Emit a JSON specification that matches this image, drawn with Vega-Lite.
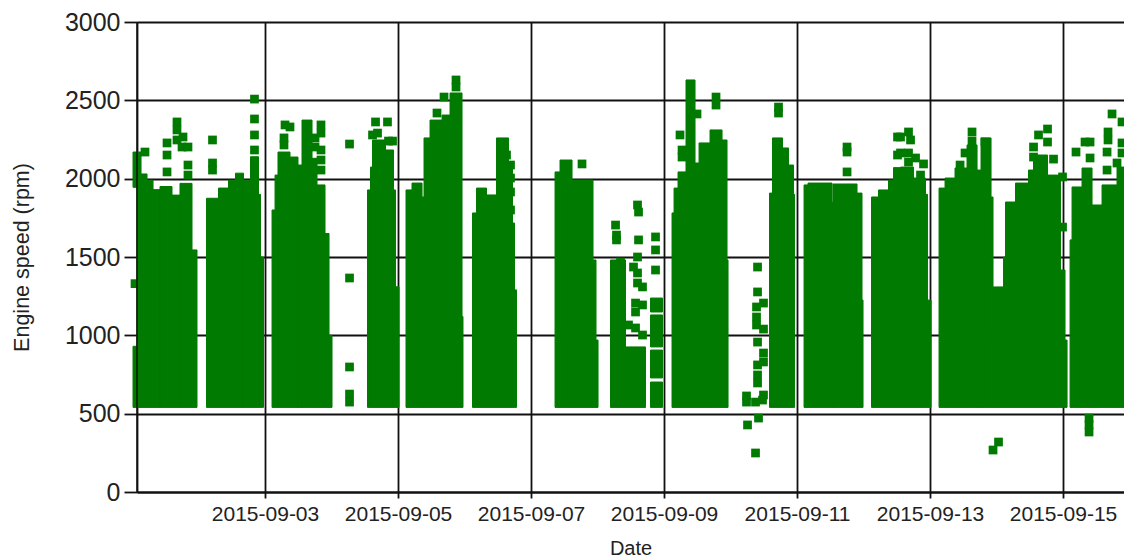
{"$schema":"https://vega.github.io/schema/vega-lite/v6.json","width":987,"height":470,"autosize":"none","padding":{"left":137,"top":22,"right":0,"bottom":68},"background":"white",
"datasets":{"bands":[
{"start":"2015-09-01T00:22","end":"2015-09-01T01:48","low":540,"high":930},
{"start":"2015-09-01T00:22","end":"2015-09-01T01:48","low":1945,"high":2170},
{"start":"2015-09-01T01:48","end":"2015-09-01T03:15","low":540,"high":2170},
{"start":"2015-09-01T03:15","end":"2015-09-01T05:25","low":540,"high":2030},
{"start":"2015-09-01T05:25","end":"2015-09-01T07:35","low":540,"high":1990},
{"start":"2015-09-01T07:35","end":"2015-09-01T10:06","low":540,"high":1930},
{"start":"2015-09-01T10:06","end":"2015-09-01T14:26","low":540,"high":1950},
{"start":"2015-09-01T14:26","end":"2015-09-01T17:19","low":540,"high":1895},
{"start":"2015-09-01T17:19","end":"2015-09-01T21:39","low":540,"high":1970},
{"start":"2015-09-01T21:39","end":"2015-09-01T23:27","low":540,"high":1545},
{"start":"2015-09-02T02:53","end":"2015-09-02T07:13","low":540,"high":1875},
{"start":"2015-09-02T07:13","end":"2015-09-02T10:50","low":540,"high":1940},
{"start":"2015-09-02T10:50","end":"2015-09-02T13:21","low":540,"high":1990},
{"start":"2015-09-02T13:21","end":"2015-09-02T16:14","low":540,"high":2035},
{"start":"2015-09-02T16:14","end":"2015-09-02T18:46","low":540,"high":1990},
{"start":"2015-09-02T18:46","end":"2015-09-02T21:39","low":540,"high":2140},
{"start":"2015-09-02T21:39","end":"2015-09-02T22:22","low":540,"high":1900},
{"start":"2015-09-02T22:22","end":"2015-09-02T23:27","low":540,"high":1500},
{"start":"2015-09-03T02:32","end":"2015-09-03T03:37","low":540,"high":1800},
{"start":"2015-09-03T03:37","end":"2015-09-03T04:41","low":540,"high":2023},
{"start":"2015-09-03T04:41","end":"2015-09-03T09:01","low":540,"high":2170},
{"start":"2015-09-03T09:01","end":"2015-09-03T11:54","low":540,"high":2138},
{"start":"2015-09-03T11:54","end":"2015-09-03T13:21","low":540,"high":2087},
{"start":"2015-09-03T13:21","end":"2015-09-03T16:58","low":540,"high":2374},
{"start":"2015-09-03T16:58","end":"2015-09-03T18:46","low":540,"high":2130},
{"start":"2015-09-03T18:46","end":"2015-09-03T21:39","low":540,"high":1960},
{"start":"2015-09-03T21:39","end":"2015-09-03T23:06","low":540,"high":1650},
{"start":"2015-09-03T23:06","end":"2015-09-04T00:11","low":540,"high":1000},
{"start":"2015-09-04T12:59","end":"2015-09-04T14:04","low":540,"high":1928},
{"start":"2015-09-04T14:04","end":"2015-09-04T14:48","low":540,"high":2074},
{"start":"2015-09-04T14:48","end":"2015-09-04T19:29","low":540,"high":2247},
{"start":"2015-09-04T19:29","end":"2015-09-04T22:22","low":540,"high":2183},
{"start":"2015-09-04T22:22","end":"2015-09-04T23:06","low":540,"high":1928},
{"start":"2015-09-04T23:06","end":"2015-09-05T00:22","low":540,"high":1310},
{"start":"2015-09-05T02:53","end":"2015-09-05T05:03","low":540,"high":1928},
{"start":"2015-09-05T05:03","end":"2015-09-05T08:40","low":540,"high":1972},
{"start":"2015-09-05T08:40","end":"2015-09-05T09:23","low":540,"high":1883},
{"start":"2015-09-05T09:23","end":"2015-09-05T11:33","low":540,"high":2260},
{"start":"2015-09-05T11:33","end":"2015-09-05T15:53","low":540,"high":2374},
{"start":"2015-09-05T15:53","end":"2015-09-05T18:46","low":540,"high":2406},
{"start":"2015-09-05T18:46","end":"2015-09-05T23:06","low":540,"high":2547},
{"start":"2015-09-05T23:06","end":"2015-09-05T23:27","low":540,"high":1120},
{"start":"2015-09-06T02:53","end":"2015-09-06T04:20","low":540,"high":1781},
{"start":"2015-09-06T04:20","end":"2015-09-06T07:56","low":540,"high":1940},
{"start":"2015-09-06T07:56","end":"2015-09-06T11:33","low":540,"high":1896},
{"start":"2015-09-06T11:33","end":"2015-09-06T15:53","low":540,"high":2260},
{"start":"2015-09-06T15:53","end":"2015-09-06T17:19","low":540,"high":2100},
{"start":"2015-09-06T17:19","end":"2015-09-06T18:03","low":540,"high":1717},
{"start":"2015-09-06T18:03","end":"2015-09-06T18:46","low":540,"high":1290},
{"start":"2015-09-07T08:40","end":"2015-09-07T10:28","low":540,"high":2043},
{"start":"2015-09-07T10:28","end":"2015-09-07T14:48","low":540,"high":2119},
{"start":"2015-09-07T14:48","end":"2015-09-07T22:22","low":540,"high":1991},
{"start":"2015-09-07T22:22","end":"2015-09-07T23:27","low":540,"high":1481},
{"start":"2015-09-07T23:27","end":"2015-09-08T00:11","low":540,"high":970},
{"start":"2015-09-08T04:41","end":"2015-09-08T10:06","low":540,"high":1481},
{"start":"2015-09-08T10:06","end":"2015-09-08T17:19","low":540,"high":926},
{"start":"2015-09-08T19:07","end":"2015-09-08T23:27","low":540,"high":702},
{"start":"2015-09-08T19:07","end":"2015-09-08T23:27","low":728,"high":906},
{"start":"2015-09-08T19:07","end":"2015-09-08T23:27","low":926,"high":1130},
{"start":"2015-09-08T19:07","end":"2015-09-08T23:27","low":1149,"high":1238},
{"start":"2015-09-09T02:53","end":"2015-09-09T03:37","low":540,"high":1781},
{"start":"2015-09-09T03:37","end":"2015-09-09T05:03","low":540,"high":1940},
{"start":"2015-09-09T05:03","end":"2015-09-09T07:56","low":540,"high":2043},
{"start":"2015-09-09T07:56","end":"2015-09-09T11:11","low":540,"high":2630},
{"start":"2015-09-09T11:11","end":"2015-09-09T12:38","low":540,"high":2100},
{"start":"2015-09-09T12:38","end":"2015-09-09T16:36","low":540,"high":2228},
{"start":"2015-09-09T16:36","end":"2015-09-09T20:56","low":540,"high":2311},
{"start":"2015-09-09T20:56","end":"2015-09-09T22:44","low":540,"high":2247},
{"start":"2015-09-09T22:44","end":"2015-09-09T23:06","low":540,"high":1481},
{"start":"2015-09-10T14:04","end":"2015-09-10T15:09","low":540,"high":1908},
{"start":"2015-09-10T15:09","end":"2015-09-10T18:46","low":540,"high":2260},
{"start":"2015-09-10T18:46","end":"2015-09-10T20:56","low":540,"high":2196},
{"start":"2015-09-10T20:56","end":"2015-09-10T22:44","low":540,"high":2087},
{"start":"2015-09-10T22:44","end":"2015-09-10T23:06","low":540,"high":1900},
{"start":"2015-09-11T02:32","end":"2015-09-11T03:58","low":540,"high":1960},
{"start":"2015-09-11T03:58","end":"2015-09-11T12:38","low":540,"high":1972},
{"start":"2015-09-11T12:38","end":"2015-09-11T12:59","low":540,"high":1850},
{"start":"2015-09-11T12:59","end":"2015-09-11T21:39","low":540,"high":1966},
{"start":"2015-09-11T21:39","end":"2015-09-11T23:27","low":540,"high":1908},
{"start":"2015-09-11T23:27","end":"2015-09-11T23:49","low":540,"high":1225},
{"start":"2015-09-12T02:53","end":"2015-09-12T05:25","low":540,"high":1883},
{"start":"2015-09-12T05:25","end":"2015-09-12T09:01","low":540,"high":1928},
{"start":"2015-09-12T09:01","end":"2015-09-12T10:50","low":540,"high":1991},
{"start":"2015-09-12T10:50","end":"2015-09-12T13:21","low":540,"high":2070},
{"start":"2015-09-12T13:21","end":"2015-09-12T18:03","low":540,"high":2074},
{"start":"2015-09-12T18:03","end":"2015-09-12T22:22","low":540,"high":2004},
{"start":"2015-09-12T22:22","end":"2015-09-12T23:06","low":540,"high":1900},
{"start":"2015-09-12T23:06","end":"2015-09-13T00:22","low":540,"high":1225},
{"start":"2015-09-13T03:15","end":"2015-09-13T05:25","low":540,"high":1940},
{"start":"2015-09-13T05:25","end":"2015-09-13T09:01","low":540,"high":2004},
{"start":"2015-09-13T09:01","end":"2015-09-13T13:21","low":540,"high":2068},
{"start":"2015-09-13T13:21","end":"2015-09-13T16:58","low":540,"high":2215},
{"start":"2015-09-13T16:58","end":"2015-09-13T18:24","low":540,"high":2055},
{"start":"2015-09-13T18:24","end":"2015-09-13T22:01","low":540,"high":2260},
{"start":"2015-09-13T22:01","end":"2015-09-13T22:44","low":540,"high":1883},
{"start":"2015-09-13T22:44","end":"2015-09-14T02:32","low":540,"high":1309},
{"start":"2015-09-14T02:32","end":"2015-09-14T03:15","low":540,"high":1500},
{"start":"2015-09-14T03:15","end":"2015-09-14T06:51","low":540,"high":1851},
{"start":"2015-09-14T06:51","end":"2015-09-14T11:33","low":540,"high":1972},
{"start":"2015-09-14T11:33","end":"2015-09-14T13:21","low":540,"high":2055},
{"start":"2015-09-14T13:21","end":"2015-09-14T18:24","low":540,"high":2151},
{"start":"2015-09-14T18:24","end":"2015-09-14T22:01","low":540,"high":2023},
{"start":"2015-09-14T22:01","end":"2015-09-14T23:06","low":540,"high":2023},
{"start":"2015-09-14T23:06","end":"2015-09-15T00:43","low":540,"high":1417},
{"start":"2015-09-15T00:43","end":"2015-09-15T01:27","low":540,"high":970},
{"start":"2015-09-15T02:32","end":"2015-09-15T03:15","low":540,"high":1609},
{"start":"2015-09-15T03:15","end":"2015-09-15T06:51","low":540,"high":1947},
{"start":"2015-09-15T06:51","end":"2015-09-15T10:28","low":540,"high":2068},
{"start":"2015-09-15T10:28","end":"2015-09-15T14:04","low":540,"high":1832},
{"start":"2015-09-15T14:04","end":"2015-09-15T19:29","low":540,"high":1960},
{"start":"2015-09-15T19:29","end":"2015-09-15T22:00","low":540,"high":2074}
],"samples":[
{"time":"2015-09-01T01:05","rpm":1330},
{"time":"2015-09-01T04:41","rpm":2170},
{"time":"2015-09-01T12:38","rpm":2228},
{"time":"2015-09-01T12:38","rpm":2151},
{"time":"2015-09-01T12:38","rpm":2043},
{"time":"2015-09-01T16:14","rpm":2362},
{"time":"2015-09-01T16:14","rpm":2311},
{"time":"2015-09-01T16:14","rpm":2247},
{"time":"2015-09-01T18:24","rpm":2266},
{"time":"2015-09-01T18:03","rpm":2202},
{"time":"2015-09-01T20:12","rpm":2202},
{"time":"2015-09-01T20:12","rpm":2087},
{"time":"2015-09-01T20:12","rpm":2023},
{"time":"2015-09-02T05:03","rpm":2247},
{"time":"2015-09-02T05:03","rpm":2100},
{"time":"2015-09-02T05:03","rpm":2055},
{"time":"2015-09-02T20:12","rpm":2508},
{"time":"2015-09-02T20:12","rpm":2381},
{"time":"2015-09-02T20:12","rpm":2279},
{"time":"2015-09-02T20:12","rpm":2183},
{"time":"2015-09-03T07:13","rpm":2343},
{"time":"2015-09-03T09:01","rpm":2330},
{"time":"2015-09-03T06:51","rpm":2260},
{"time":"2015-09-03T06:51","rpm":2215},
{"time":"2015-09-03T20:12","rpm":2343},
{"time":"2015-09-03T20:12","rpm":2291},
{"time":"2015-09-03T20:12","rpm":2183},
{"time":"2015-09-03T20:12","rpm":2119},
{"time":"2015-09-03T20:12","rpm":2055},
{"time":"2015-09-03T18:03","rpm":2260},
{"time":"2015-09-03T18:03","rpm":2202},
{"time":"2015-09-04T06:30","rpm":2221},
{"time":"2015-09-04T06:30","rpm":1366},
{"time":"2015-09-04T06:30","rpm":798},
{"time":"2015-09-04T06:30","rpm":625},
{"time":"2015-09-04T06:30","rpm":574},
{"time":"2015-09-04T15:53","rpm":2362},
{"time":"2015-09-04T20:12","rpm":2362},
{"time":"2015-09-04T16:36","rpm":2291},
{"time":"2015-09-04T20:34","rpm":2240},
{"time":"2015-09-04T22:01","rpm":2240},
{"time":"2015-09-04T14:48","rpm":2279},
{"time":"2015-09-05T20:56","rpm":2489},
{"time":"2015-09-05T20:56","rpm":2585},
{"time":"2015-09-05T20:56","rpm":2630},
{"time":"2015-09-05T16:36","rpm":2521},
{"time":"2015-09-05T14:04","rpm":2419},
{"time":"2015-09-06T14:26","rpm":2221},
{"time":"2015-09-06T15:09","rpm":2151},
{"time":"2015-09-06T16:36","rpm":2087},
{"time":"2015-09-06T16:36","rpm":2004},
{"time":"2015-09-06T16:36","rpm":1915},
{"time":"2015-09-06T16:36","rpm":1800},
{"time":"2015-09-07T18:24","rpm":2094},
{"time":"2015-09-08T06:30","rpm":1704},
{"time":"2015-09-08T06:51","rpm":1640},
{"time":"2015-09-08T06:51","rpm":1609},
{"time":"2015-09-08T14:26","rpm":1832},
{"time":"2015-09-08T14:48","rpm":1787},
{"time":"2015-09-08T14:48","rpm":1609},
{"time":"2015-09-08T14:26","rpm":1500},
{"time":"2015-09-08T12:59","rpm":1436},
{"time":"2015-09-08T14:26","rpm":1398},
{"time":"2015-09-08T14:26","rpm":1334},
{"time":"2015-09-08T16:14","rpm":1309},
{"time":"2015-09-08T13:43","rpm":1206},
{"time":"2015-09-08T16:14","rpm":1194},
{"time":"2015-09-08T13:43","rpm":1149},
{"time":"2015-09-08T11:11","rpm":1066},
{"time":"2015-09-08T13:43","rpm":1047},
{"time":"2015-09-08T16:14","rpm":1002},
{"time":"2015-09-08T08:18","rpm":1468},
{"time":"2015-09-08T20:56","rpm":1628},
{"time":"2015-09-08T20:56","rpm":1545},
{"time":"2015-09-08T20:56","rpm":1417},
{"time":"2015-09-09T05:46","rpm":2279},
{"time":"2015-09-09T06:30","rpm":2183},
{"time":"2015-09-09T06:30","rpm":2138},
{"time":"2015-09-09T11:54","rpm":2413},
{"time":"2015-09-09T18:46","rpm":2521},
{"time":"2015-09-09T18:46","rpm":2470},
{"time":"2015-09-10T09:45","rpm":1436},
{"time":"2015-09-10T09:45","rpm":1277},
{"time":"2015-09-10T11:54","rpm":1206},
{"time":"2015-09-10T09:23","rpm":1181},
{"time":"2015-09-10T09:23","rpm":1117},
{"time":"2015-09-10T09:23","rpm":1066},
{"time":"2015-09-10T11:54","rpm":1040},
{"time":"2015-09-10T09:45","rpm":957},
{"time":"2015-09-10T11:54","rpm":887},
{"time":"2015-09-10T11:54","rpm":830},
{"time":"2015-09-10T09:45","rpm":811},
{"time":"2015-09-10T09:45","rpm":747},
{"time":"2015-09-10T09:45","rpm":696},
{"time":"2015-09-10T11:54","rpm":619},
{"time":"2015-09-10T09:01","rpm":574},
{"time":"2015-09-10T05:46","rpm":574},
{"time":"2015-09-10T05:46","rpm":613},
{"time":"2015-09-10T11:33","rpm":587},
{"time":"2015-09-10T10:06","rpm":472},
{"time":"2015-09-10T06:08","rpm":428},
{"time":"2015-09-10T09:01","rpm":249},
{"time":"2015-09-10T17:19","rpm":2457},
{"time":"2015-09-10T17:19","rpm":2419},
{"time":"2015-09-11T18:03","rpm":2202},
{"time":"2015-09-11T18:03","rpm":2170},
{"time":"2015-09-11T18:03","rpm":2043},
{"time":"2015-09-12T16:14","rpm":2298},
{"time":"2015-09-12T16:14","rpm":2164},
{"time":"2015-09-12T16:14","rpm":2106},
{"time":"2015-09-12T13:21","rpm":2266},
{"time":"2015-09-12T13:21","rpm":2164},
{"time":"2015-09-12T16:58","rpm":2247},
{"time":"2015-09-12T18:46","rpm":2132},
{"time":"2015-09-12T21:39","rpm":2094},
{"time":"2015-09-12T20:34","rpm":2023},
{"time":"2015-09-12T12:16","rpm":2266},
{"time":"2015-09-12T12:16","rpm":2151},
{"time":"2015-09-12T12:16","rpm":2043},
{"time":"2015-09-13T15:09","rpm":2298},
{"time":"2015-09-13T15:09","rpm":2240},
{"time":"2015-09-13T12:38","rpm":2164},
{"time":"2015-09-13T10:50","rpm":2087},
{"time":"2015-09-13T19:51","rpm":2234},
{"time":"2015-09-13T22:44","rpm":268},
{"time":"2015-09-14T00:43","rpm":319},
{"time":"2015-09-14T18:24","rpm":2317},
{"time":"2015-09-14T18:24","rpm":2234},
{"time":"2015-09-14T15:09","rpm":2279},
{"time":"2015-09-14T13:21","rpm":2202},
{"time":"2015-09-14T13:21","rpm":2138},
{"time":"2015-09-14T20:34","rpm":2125},
{"time":"2015-09-14T23:49","rpm":2011},
{"time":"2015-09-14T23:49","rpm":1691},
{"time":"2015-09-15T04:41","rpm":2170},
{"time":"2015-09-15T07:56","rpm":2234},
{"time":"2015-09-15T09:45","rpm":2234},
{"time":"2015-09-15T09:45","rpm":2132},
{"time":"2015-09-15T16:14","rpm":2298},
{"time":"2015-09-15T16:14","rpm":2247},
{"time":"2015-09-15T15:53","rpm":2170},
{"time":"2015-09-15T15:53","rpm":2055},
{"time":"2015-09-15T17:41","rpm":2413},
{"time":"2015-09-15T21:17","rpm":2362},
{"time":"2015-09-15T21:17","rpm":2228},
{"time":"2015-09-15T21:17","rpm":2164},
{"time":"2015-09-15T19:29","rpm":2100},
{"time":"2015-09-15T09:23","rpm":472},
{"time":"2015-09-15T09:23","rpm":428},
{"time":"2015-09-15T09:23","rpm":383}
],"axisStart":[{"t":"2015-09-01T01:48"}]},
"config":{"view":{"stroke":null},"axis":{"labelFont":"Liberation Sans","titleFont":"Liberation Sans","labelColor":"#222222","titleColor":"#222222","titleFontWeight":"normal"}},
"layer":[
{"data":{"name":"bands","format":{"parse":{"start":"date","end":"date"}}},"mark":{"type":"rect","color":"#007a00","stroke":"#007a00","strokeWidth":1},
"encoding":{
"x":{"field":"start","type":"temporal","title":"Date","scale":{"domain":["2015-09-01T01:48","2015-09-15T22:00"]},
"axis":{"values":[{"year":2015,"month":9,"date":3},{"year":2015,"month":9,"date":5},{"year":2015,"month":9,"date":7},{"year":2015,"month":9,"date":9},{"year":2015,"month":9,"date":11},{"year":2015,"month":9,"date":13},{"year":2015,"month":9,"date":15}],"format":"%Y-%m-%d","grid":true,"gridColor":"#111111","gridWidth":1.8,"domainColor":"#111111","domainWidth":1.8,"tickColor":"#111111","tickWidth":1.8,"tickSize":6,"labelFontSize":21,"labelPadding":5,"labelFlush":false,"labelOverlap":false,"titleFontSize":20,"titleY":56,"titleBaseline":"middle"}},
"x2":{"field":"end"},
"y":{"field":"low","type":"quantitative","title":"Engine speed (rpm)","scale":{"domain":[0,3000],"nice":false},
"axis":{"values":[0,500,1000,1500,2000,2500,3000],"format":"d","grid":true,"gridColor":"#111111","gridWidth":1.8,"domainColor":"#111111","domainWidth":1.8,"tickColor":"#111111","tickWidth":1.8,"tickSize":13,"labelFontSize":25,"labelPadding":4,"labelFlush":false,"titleFontSize":21.5,"titleX":-115,"titleBaseline":"middle"}},
"y2":{"field":"high"}}},
{"data":{"name":"samples","format":{"parse":{"time":"date"}}},"mark":{"type":"point","shape":"square","filled":true,"size":76,"opacity":1,"color":"#007a00"},
"encoding":{"x":{"field":"time","type":"temporal"},"y":{"field":"rpm","type":"quantitative"}}},
{"data":{"name":"axisStart","format":{"parse":{"t":"date"}}},"mark":{"type":"rule","color":"#111111","strokeWidth":1.8,"opacity":0.8},"encoding":{"x":{"field":"t","type":"temporal"}}}
]}
